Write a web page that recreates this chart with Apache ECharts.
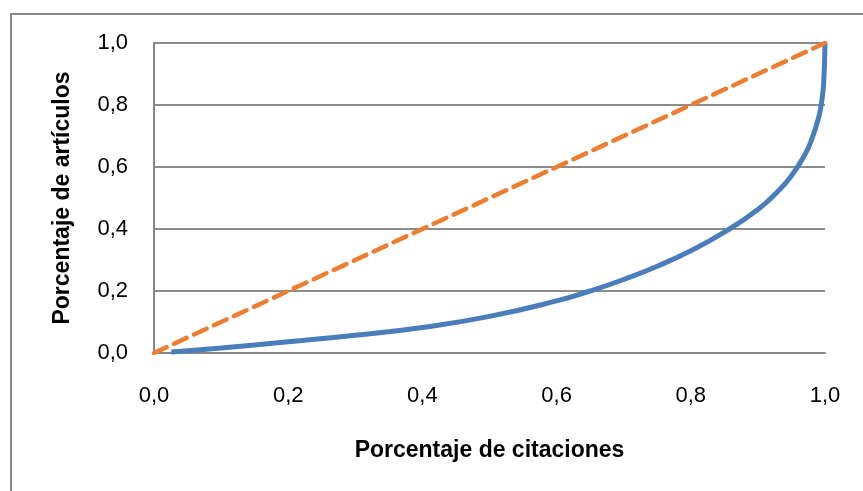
<!DOCTYPE html>
<html>
<head>
<meta charset="utf-8">
<script src="https://cdn.jsdelivr.net/npm/echarts@6/dist/echarts.min.js"></script>
<style>html,body{margin:0;padding:0;background:#fff;}#c{width:863px;height:491px;}</style>
</head>
<body>
<div id="c"></div>
<script>
var xTicks = [0, 0.2, 0.4, 0.6, 0.8, 1.0];
var curveX = [0.026, 0.1, 0.2, 0.3, 0.4, 0.5, 0.6, 0.65, 0.7, 0.75, 0.8, 0.85, 0.9, 0.93, 0.95, 0.97, 0.98, 0.99, 0.995, 0.998, 1.0];
var curveY = [0.003, 0.016, 0.036, 0.057, 0.082, 0.118, 0.168, 0.200, 0.237, 0.280, 0.330, 0.390, 0.463, 0.522, 0.572, 0.640, 0.688, 0.755, 0.81, 0.87, 1.0];
var diagX = [0, 1];
var diagY = [0, 1];

var curve = curveX.map(function (x, i) { return [x, curveY[i]]; });
var diag = diagX.map(function (x, i) { return [x, diagY[i]]; });
function fmt(v) { return v.toFixed(1).replace('.', ','); }

var chart = echarts.init(document.getElementById('c'), null, { renderer: 'canvas' });
chart.setOption({
  backgroundColor: '#ffffff',
  animation: false,
  graphic: [{
    type: 'rect', shape: { x: 11, y: 14, width: 900, height: 600 },
    style: { fill: 'none', stroke: '#898989', lineWidth: 2 }, silent: true, z: -1
  }],
  grid: { left: 154, right: 38, top: 43, bottom: 138 },
  xAxis: {
    type: 'value', min: 0, max: 1, interval: 0.2,
    name: 'Porcentaje de citaciones', nameLocation: 'middle', nameGap: 86,
    nameTextStyle: { fontFamily: 'Liberation Sans', fontWeight: 'bold', fontSize: 23, color: '#000' },
    axisLine: { show: true, lineStyle: { color: '#868686', width: 2 } },
    axisTick: { show: false },
    splitLine: { show: false },
    axisLabel: { formatter: fmt, margin: 32, fontFamily: 'Liberation Sans', fontSize: 22, color: '#000' }
  },
  yAxis: {
    type: 'value', min: 0, max: 1, interval: 0.2,
    name: 'Porcentaje de artículos', nameLocation: 'middle', nameGap: 80, nameRotate: 90,
    nameTextStyle: { fontFamily: 'Liberation Sans', fontWeight: 'bold', fontSize: 23, color: '#000' },
    axisLine: { show: true, lineStyle: { color: '#868686', width: 2 } },
    axisTick: { show: false },
    splitLine: { show: true, lineStyle: { color: '#8c8c8c', width: 2 } },
    axisLabel: { formatter: fmt, margin: 26, fontFamily: 'Liberation Sans', fontSize: 22, color: '#000' }
  },
  series: [{
    type: 'line', data: diag, showSymbol: false, symbol: 'none',
    lineStyle: { color: '#ED7D31', width: 4.5, type: [14, 8], cap: 'round' }, z: 3
  }, {
    type: 'line', data: curve, showSymbol: false, symbol: 'none', smooth: 0.5,
    lineStyle: { color: '#4A7EBB', width: 5 }, z: 2
  }]
});
</script>
</body>
</html>
